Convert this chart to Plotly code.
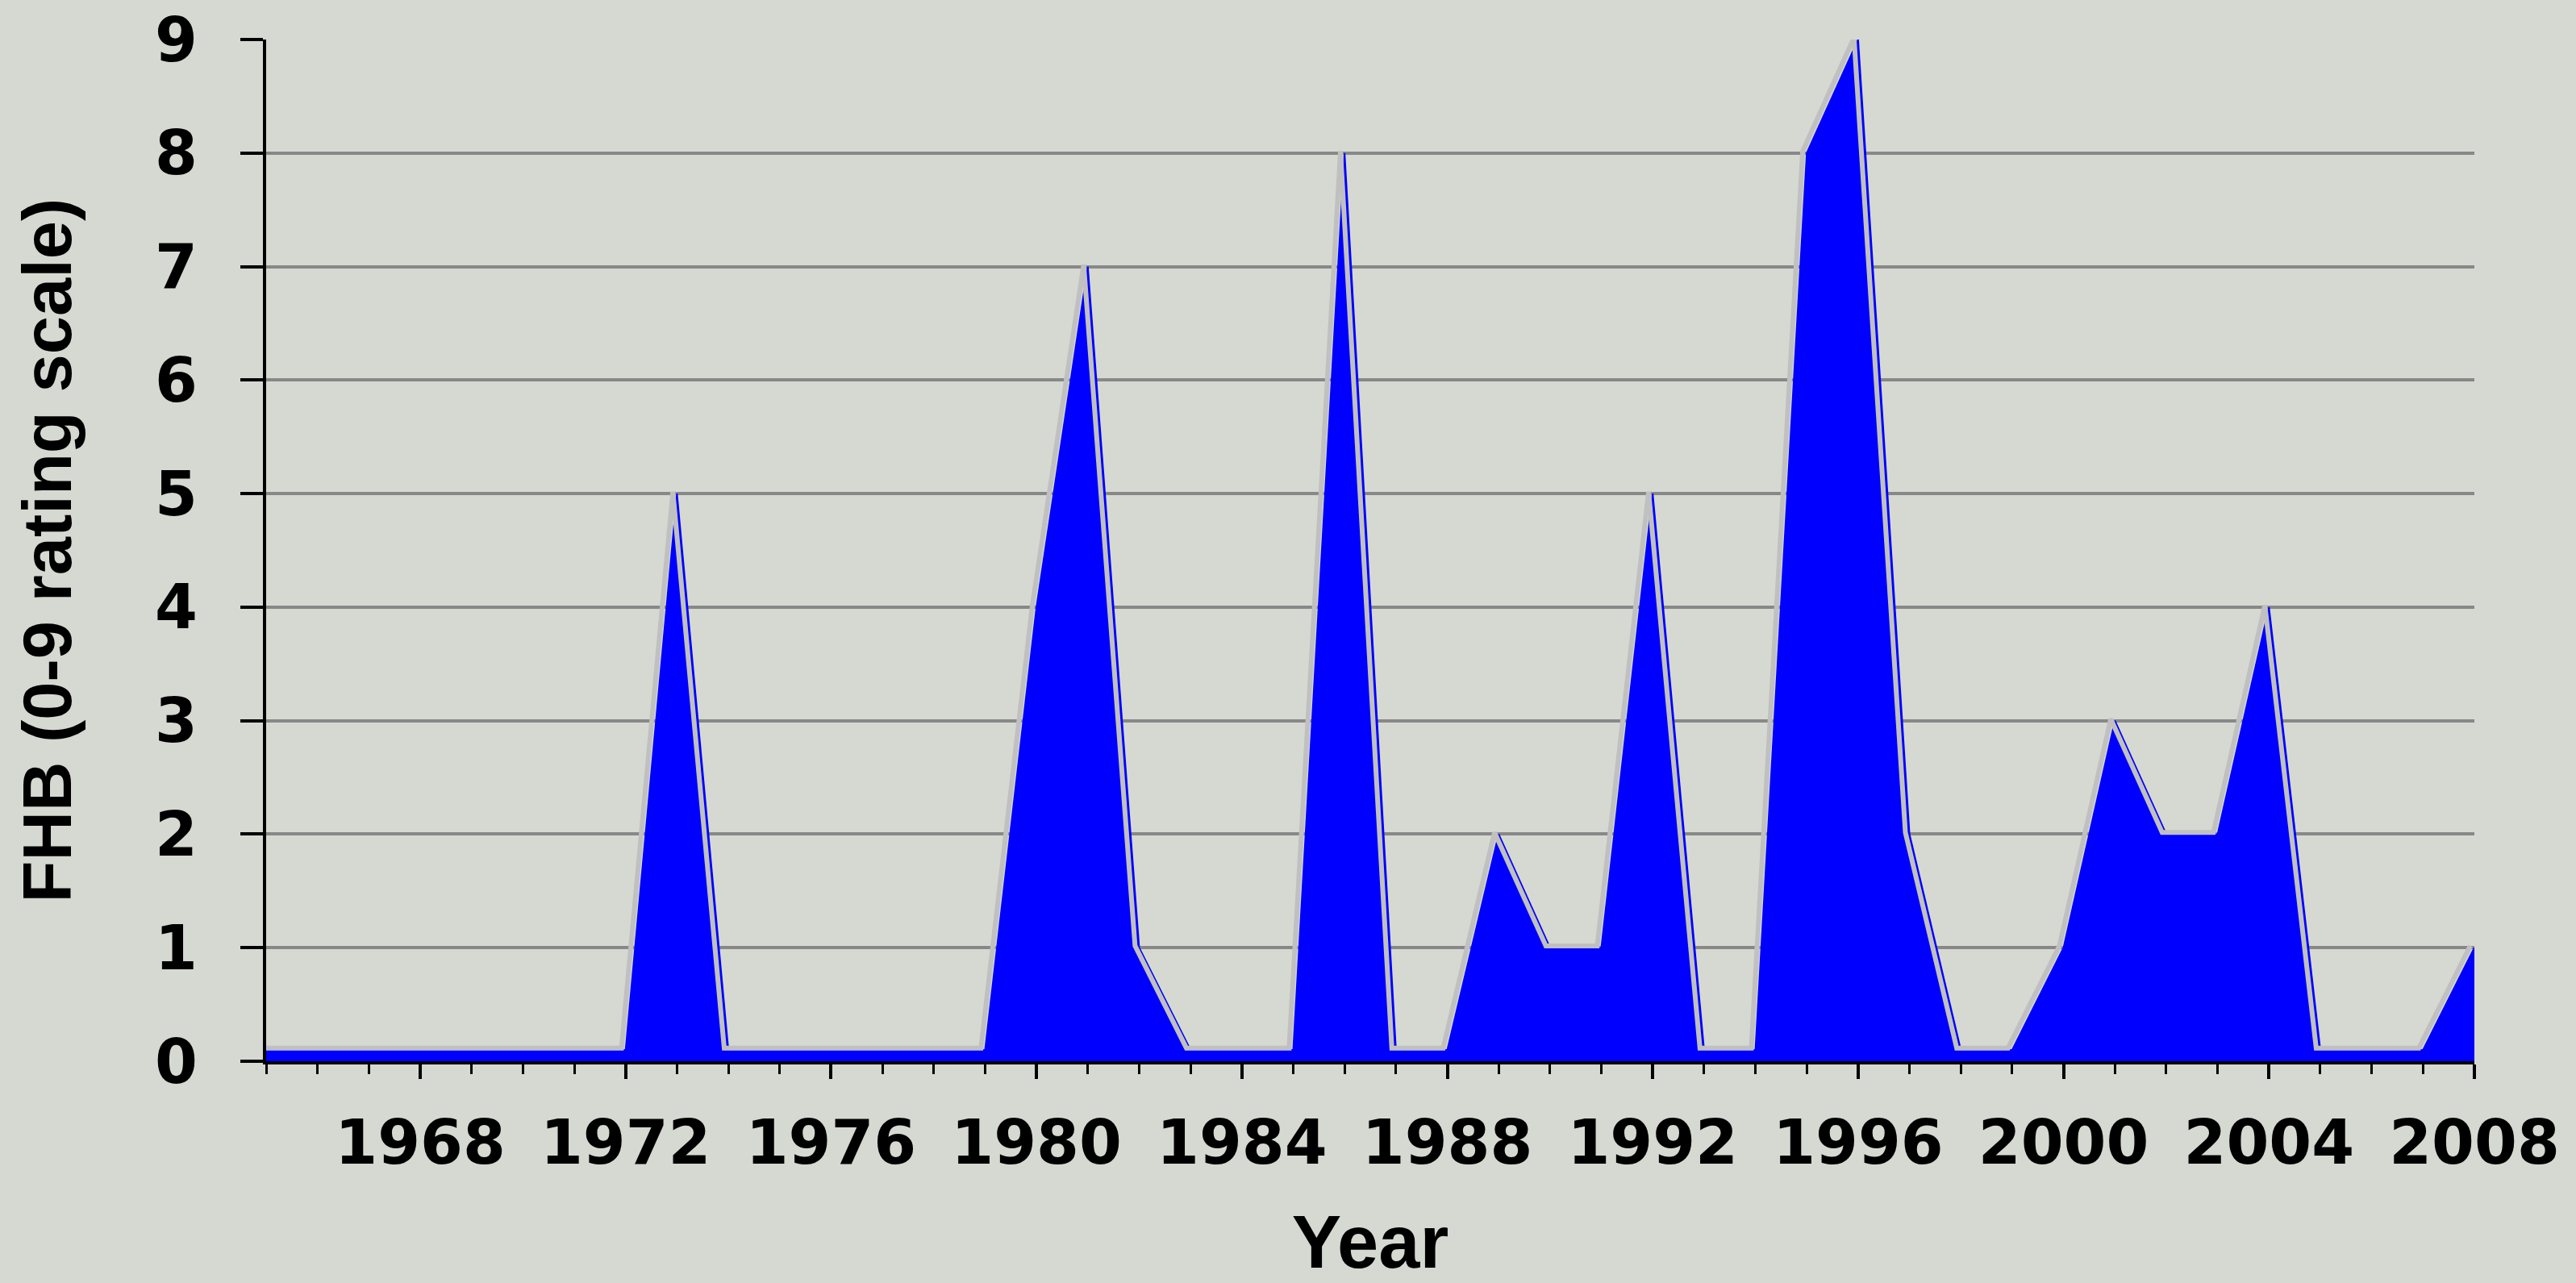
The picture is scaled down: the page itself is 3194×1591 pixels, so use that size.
import plotly.graph_objects as go

years = list(range(1965, 2009))
fhb = [0.1, 0.1, 0.1, 0.1, 0.1, 0.1, 0.1, 0.1,   # 1965-1972
       5, 0.1, 0.1, 0.1, 0.1, 0.1, 0.1,          # 1973-1979
       4, 7, 1, 0.1, 0.1, 0.1,                   # 1980-1985
       8, 0.1, 0.1, 2, 1, 1, 5, 0.1, 0.1,        # 1986-1994
       8, 9, 2, 0.1, 0.1,                        # 1995-1999
       1, 3, 2, 2, 4, 0.1, 0.1, 0.1, 1]          # 2000-2008

x_ticks = list(range(1968, 2009, 4))
y_ticks = list(range(0, 10))

x_range = [1965, 2008]
y_range = [0, 9]

# small pixel offset for the grey "shadow" outline (in axis units)
dx = 0.08
dy = 0.016

fig = go.Figure()

fig.add_trace(go.Scatter(
    x=years, y=fhb, mode="lines", fill="tozeroy",
    fillcolor="#0000FF", line=dict(color="#0000FF", width=2),
    hoverinfo="x+y", showlegend=False,
))
fig.add_trace(go.Scatter(
    x=years, y=fhb, mode="lines",
    line=dict(color="#C0C0C0", width=6),
    xaxis="x2", yaxis="y2", hoverinfo="skip", showlegend=False,
))

fig.update_layout(
    width=3194, height=1591,
    margin=dict(l=330, r=126, t=49, b=275, autoexpand=False),
    paper_bgcolor="#d6d9d1",
    plot_bgcolor="rgba(0,0,0,0)",
    font=dict(family="DejaVu Sans", color="black"),
    xaxis=dict(
        range=x_range, tickmode="array", tickvals=x_ticks,
        ticktext=[str(t) for t in x_ticks],
        ticks="outside", ticklen=18, tickwidth=4, tickcolor="black",
        showline=True, linecolor="black", linewidth=4,
        showgrid=False, zeroline=False,
        tickfont=dict(family="DejaVu Sans", size=76, weight="bold"),
        ticklabelstandoff=14,
        minor=dict(dtick=1, tick0=1965, ticks="outside", ticklen=12,
                   tickwidth=3, tickcolor="black", showgrid=False),
        title=dict(text="Year", standoff=70,
                   font=dict(family="Liberation Sans", size=92, weight="bold")),
    ),
    yaxis=dict(
        range=y_range, tickmode="array", tickvals=y_ticks,
        ticks="outside", ticklen=28, tickwidth=4, tickcolor="black",
        showline=True, linecolor="black", linewidth=4,
        showgrid=True, gridcolor="#888888", gridwidth=3.5,
        zeroline=False,
        tickfont=dict(family="DejaVu Sans", size=76, weight="bold"),
        ticklabelstandoff=38,
        title=dict(text="FHB (0-9 rating scale)", standoff=76,
                   font=dict(family="Liberation Sans", size=85, weight="bold")),
    ),
    xaxis2=dict(range=[x_range[0] + dx, x_range[1] + dx], overlaying="x",
                visible=False),
    yaxis2=dict(range=[y_range[0] - dy, y_range[1] - dy], overlaying="y",
                visible=False),
)

fig.write_html(
    "out.html",
    config={"displayModeBar": False},
    post_script="document.body.style.margin='0';document.body.style.overflow='hidden';",
)
